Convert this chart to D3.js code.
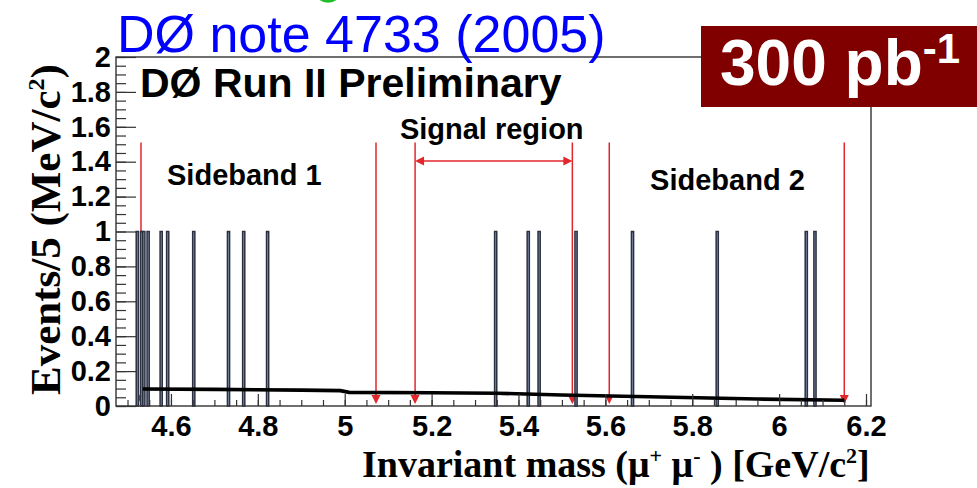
<!DOCTYPE html>
<html>
<head>
<meta charset="utf-8">
<script src="https://cdn.jsdelivr.net/npm/d3@7"></script>
<style>
  html, body { margin: 0; padding: 0; background: #fff; }
  svg { display: block; }
</style>
</head>
<body>
<svg id="chart" width="977" height="488"></svg>
<script>
// Dimuon invariant mass candidates (bin lower edges, GeV/c^2), one event per bin
const binEdges = [4.520, 4.530, 4.535, 4.545, 4.575, 4.590, 4.650, 4.730, 4.765, 4.820,
                  5.345, 5.420, 5.445, 5.530, 5.660, 5.855, 6.060, 6.080];
const binCounts = [1, 1, 1, 1, 1, 1, 1, 1, 1, 1, 1, 1, 1, 1, 1, 1, 1, 1];
const binWidth = 0.005;

// Background fit curve
const fitMass = [4.535, 4.70, 4.90, 4.99, 5.01, 5.20, 5.35, 5.50, 5.70, 5.95, 6.15];
const fitVal  = [0.097, 0.095, 0.091, 0.088, 0.078, 0.076, 0.073, 0.063, 0.053, 0.040, 0.033];

// Region boundaries (sideband 1, signal, sideband 2)
const regionEdges = [4.531, 5.072, 5.162, 5.524, 5.609, 6.150];
const signalRange = [5.162, 5.524];

// Axis ticks
const xTicks = [4.6, 4.8, 5.0, 5.2, 5.4, 5.6, 5.8, 6.0, 6.2];
const xTickLabels = ["4.6", "4.8", "5", "5.2", "5.4", "5.6", "5.8", "6", "6.2"];
const yTicks = [0, 0.2, 0.4, 0.6, 0.8, 1.0, 1.2, 1.4, 1.6, 1.8, 2.0];
const yTickLabels = ["0", "0.2", "0.4", "0.6", "0.8", "1", "1.2", "1.4", "1.6", "1.8", "2"];

const xDomain = [4.4735, 6.2115];
const yDomain = [0, 2];

const svg = d3.select("#chart");
const L = 116, R = 871, T = 57, B = 406;

const x = d3.scaleLinear().domain(xDomain).range([L, R]);
const y = d3.scaleLinear().domain(yDomain).range([B, T]);

const sans = "'Liberation Sans', Arial, Helvetica, sans-serif";
const serif = "'Liberation Serif', 'Times New Roman', serif";
const red = "#e3262b";

// Red region boundaries with downward arrowheads
const yLineTop = 1.51;
const gReg = svg.append("g");
gReg.selectAll("line").data(regionEdges).join("line")
  .attr("x1", d => x(d)).attr("x2", d => x(d))
  .attr("y1", y(yLineTop)).attr("y2", y(0) - 4)
  .attr("stroke", red).attr("stroke-width", 1.5);
gReg.selectAll("path").data(regionEdges).join("path")
  .attr("d", d => `M${x(d) - 4.5},${y(0) - 11} L${x(d) + 4.5},${y(0) - 11} L${x(d)},${y(0) - 2} Z`)
  .attr("fill", red);

// Histogram bars
svg.append("g").selectAll("rect").data(binEdges).join("rect")
  .attr("x", d => x(d))
  .attr("width", d => x(d + binWidth) - x(d))
  .attr("y", (d, i) => y(binCounts[i]))
  .attr("height", (d, i) => y(0) - y(binCounts[i]))
  .attr("fill", "#8d9bc0")
  .attr("stroke", "#2b3140")
  .attr("stroke-width", 1.5);

// Background fit line
const fitLine = d3.line().x((d, i) => x(fitMass[i])).y(d => y(d)).curve(d3.curveLinear);
svg.append("path").datum(fitVal)
  .attr("d", fitLine)
  .attr("fill", "none").attr("stroke", "#000").attr("stroke-width", 3.6);

// Signal region double-headed arrow
const yArrow = 1.404;
const xa = x(signalRange[0]), xb = x(signalRange[1]), ya = y(yArrow);
svg.append("line").attr("x1", xa + 4).attr("x2", xb - 4).attr("y1", ya).attr("y2", ya)
  .attr("stroke", red).attr("stroke-width", 1.5);
svg.append("path").attr("d", `M${xa},${ya} L${xa + 9},${ya - 4.5} L${xa + 9},${ya + 4.5} Z`).attr("fill", red);
svg.append("path").attr("d", `M${xb},${ya} L${xb - 9},${ya - 4.5} L${xb - 9},${ya + 4.5} Z`).attr("fill", red);

// Frame
svg.append("rect").attr("x", L).attr("y", T).attr("width", R - L).attr("height", B - T)
  .attr("fill", "none").attr("stroke", "#333").attr("stroke-width", 1.4);

// Axes: major and minor ticks pointing inward
const xMinor = d3.range(4.5, 6.21, 0.05);
const yMinor = d3.range(0, 2.001, 0.05);
const gx = svg.append("g").attr("transform", `translate(0,${B})`);
gx.call(d3.axisBottom(x).tickValues(xMinor).tickSize(-6).tickFormat(""));
gx.call(g => g.select(".domain").remove());
const gx2 = svg.append("g").attr("transform", `translate(0,${B})`)
  .call(d3.axisBottom(x).tickValues(xTicks).tickSize(-12).tickPadding(9)
        .tickFormat((d, i) => xTickLabels[i]));
gx2.select(".domain").remove();
gx2.selectAll("text").attr("font-family", sans).attr("font-weight", "bold")
  .attr("font-size", 29).attr("fill", "#000");

const gy = svg.append("g").attr("transform", `translate(${L},0)`);
gy.call(d3.axisLeft(y).tickValues(yMinor).tickSize(-10).tickFormat(""));
gy.call(g => g.select(".domain").remove());
const gy2 = svg.append("g").attr("transform", `translate(${L},0)`)
  .call(d3.axisLeft(y).tickValues(yTicks).tickSize(-20).tickPadding(5)
        .tickFormat((d, i) => yTickLabels[i]));
gy2.select(".domain").remove();
gy2.selectAll("text").attr("font-family", sans).attr("font-weight", "bold")
  .attr("font-size", 29).attr("fill", "#000");
svg.selectAll(".tick line").attr("stroke", "#333").attr("stroke-width", 1.2);

// Region labels
const labels = [
  { text: "Sideband 1", m: 4.591, v: 1.266 },
  { text: "Signal region", m: 5.127, v: 1.530 },
  { text: "Sideband 2", m: 5.703, v: 1.238 }
];
svg.append("g").selectAll("text").data(labels).join("text")
  .attr("x", d => x(d.m)).attr("y", d => y(d.v))
  .attr("font-family", sans).attr("font-weight", "bold").attr("font-size", 29)
  .text(d => d.text);

// Experiment label
svg.append("text").attr("x", 140).attr("y", 97)
  .attr("font-family", sans).attr("font-weight", "bold").attr("font-size", 41)
  .text("DØ Run II Preliminary");

// Axis titles
const xt = svg.append("text").attr("x", 362).attr("y", 477)
  .attr("font-family", serif).attr("font-weight", "bold").attr("font-size", 38);
xt.append("tspan").text("Invariant mass (μ");
xt.append("tspan").attr("font-size", 22).attr("dy", -14).text("+");
xt.append("tspan").attr("dy", 14).text(" μ");
xt.append("tspan").attr("font-size", 22).attr("dy", -14).text("-");
xt.append("tspan").attr("dy", 14).text(" ) [GeV/c");
xt.append("tspan").attr("font-size", 22).attr("dy", -14).text("2");
xt.append("tspan").attr("dy", 14).text("]");

const yt = svg.append("text")
  .attr("transform", "translate(60,395) rotate(-90)")
  .attr("font-family", serif).attr("font-weight", "bold").attr("font-size", 43);
yt.append("tspan").text("Events/5 (MeV/c");
yt.append("tspan").attr("font-size", 24).attr("dy", -16).text("2");
yt.append("tspan").attr("dy", 16).text(")");

// Note header
svg.append("circle").attr("cx", 328).attr("cy", -12).attr("r", 14.7).attr("fill", "#1fbf2a");
svg.append("text").attr("x", 117).attr("y", 52)
  .attr("font-family", sans).attr("font-size", 52).attr("fill", "#0000ff")
  .text("DØ note 4733 (2005)");

// Luminosity badge
svg.append("rect").attr("x", 701).attr("y", 26).attr("width", 276).attr("height", 81)
  .attr("fill", "#800000");
const lum = svg.append("text").attr("x", 720).attr("y", 85)
  .attr("font-family", sans).attr("font-weight", "bold").attr("font-size", 64).attr("fill", "#fff");
lum.append("tspan").text("300 pb");
lum.append("tspan").attr("font-size", 42).attr("dy", -22).text("-1");
</script>
</body>
</html>
